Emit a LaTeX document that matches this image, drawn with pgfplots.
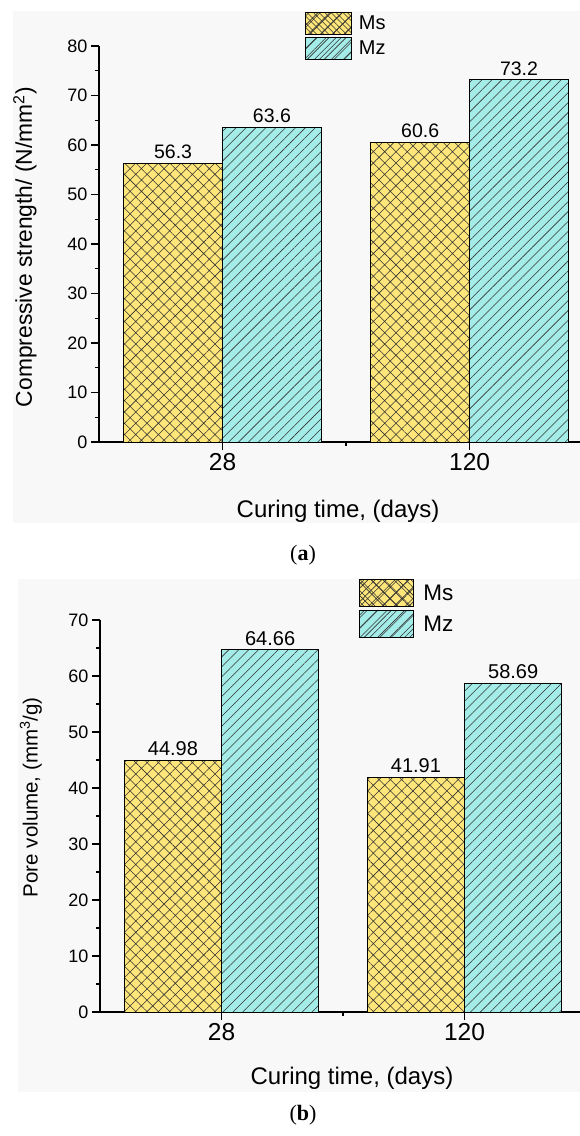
\documentclass[border=0pt]{standalone}
\usepackage{pgfplots}
\pgfplotsset{compat=1.18}
\usetikzlibrary{patterns.meta}
\usepackage{fontspec}
\setmainfont{Liberation Sans}
\newfontfamily\capfont{Liberation Serif}
\definecolor{msy}{RGB}{255,230,122}
\definecolor{mzc}{RGB}{164,236,232}
\definecolor{bgg}{RGB}{248,248,248}
\definecolor{hatchc}{RGB}{50,50,50}
\pgfplotsset{
  common/.style={
    scale only axis,
    anchor=south west,
    axis x line*=bottom,
    axis y line*=left,
    axis line style={line width=1.1pt},
    xmin=0.5,
    ymin=0,
    xtick={1,2},
    xticklabels={28,120},
    minor xtick={1.5},
    minor y tick num=1,
    tick align=outside,
    major tick length=8pt,
    minor tick length=4pt,
    tick style={line width=1.1pt, black},
    /pgf/number format/assume math mode=true,
    yticklabel style={font=\fontsize{18}{20}\selectfont},
    xticklabel style={font=\fontsize{24.5}{26}\selectfont},
    xlabel style={font=\fontsize{24}{26}\selectfont},
    nodes near coords,
    point meta=explicit symbolic,
    every node near coord/.append style={inner sep=0pt, yshift=4pt, anchor=south},
    legend cell align=left,
  },
  msbar/.style={ybar, bar width=0.4, bar shift=0pt, fill=msy, draw=black, line width=0.9pt,
    postaction={pattern={Hatch[angle=45,distance=8pt,line width=0.55pt]}, pattern color=hatchc}},
  mzbar/.style={ybar, bar width=0.4, bar shift=0pt, fill=mzc, draw=black, line width=0.9pt,
    postaction={pattern={Lines[angle=45,distance=7pt,line width=0.55pt]}, pattern color=hatchc}},
  legMsA/.style={legend image code/.code={\draw[fill=msy, draw=black, line width=0.9pt,
    postaction={pattern={Hatch[angle=45,distance=8.5pt,line width=0.6pt]}, pattern color=hatchc}]
    (0pt,-11pt) rectangle (46pt,11pt);}},
  legMzA/.style={legend image code/.code={\draw[fill=mzc, draw=black, line width=0.9pt,
    postaction={pattern={Lines[angle=45,distance=8.5pt,line width=0.6pt]}, pattern color=hatchc}]
    (0pt,-11pt) rectangle (46pt,11pt);}},
  legMsB/.style={legend image code/.code={\draw[fill=msy, draw=black, line width=0.9pt,
    postaction={pattern={Hatch[angle=45,distance=9.5pt,line width=0.6pt]}, pattern color=hatchc}]
    (0pt,-13.5pt) rectangle (54pt,13.5pt);}},
  legMzB/.style={legend image code/.code={\draw[fill=mzc, draw=black, line width=0.9pt,
    postaction={pattern={Lines[angle=45,distance=9.5pt,line width=0.6pt]}, pattern color=hatchc}]
    (0pt,-13.5pt) rectangle (54pt,13.5pt);}},
}
\begin{document}
\begin{tikzpicture}[x=1pt,y=1pt]
\path[use as bounding box] (0,0) rectangle (580,1136);
\fill[bgg] (13,613) rectangle (580,1125.3);
\fill[bgg] (18,44) rectangle (580,557);
% ---------- panel (a)
\begin{axis}[common,
  at={(99pt,694pt)}, width=481pt, height=396pt,
  xmax=2.447, ymax=80, ytick={0,10,...,80},
  every node near coord/.append style={font=\fontsize{19.5}{21}\selectfont},
  xlabel={Curing time, (days)},
  ylabel={Compressive strength/ (N/mm\textsuperscript{2})},
  xlabel style={at={(axis description cs:0.497,-0.174)}, anchor=center},
  ylabel style={font=\fontsize{22.8}{24}\selectfont, at={(axis description cs:-0.154,0.492)}, anchor=center, rotate=0},
  legend style={draw=none, fill=none, at={(axis description cs:0.428,1.087)}, anchor=north west,
    inner sep=0pt, row sep=2.5pt, font=\fontsize{20}{22}\selectfont,
    /tikz/every odd column/.append style={column sep=5pt}},
]
\addplot[msbar, legMsA]
  coordinates {(0.8,56.3) [56.3] (1.8,60.6) [60.6]};
\addlegendentry{Ms}
\addplot[mzbar, legMzA]
  coordinates {(1.2,63.6) [63.6] (2.2,73.2) [73.2]};
\addlegendentry{Mz}
\end{axis}
% ---------- panel (b)
\begin{axis}[common,
  at={(100pt,124pt)}, width=480pt, height=392pt,
  xmax=2.475, ymax=70, ytick={0,10,...,70},
  every node near coord/.append style={font=\fontsize{20}{22}\selectfont},
  xlabel={Curing time, (days)},
  ylabel={Pore volume, (mm\textsuperscript{3}/g)},
  xlabel style={at={(axis description cs:0.525,-0.168)}, anchor=center},
  ylabel style={font=\fontsize{20.5}{22}\selectfont, at={(axis description cs:-0.144,0.548)}, anchor=center, rotate=0},
  legend style={draw=none, fill=none, at={(axis description cs:0.54,1.1046)}, anchor=north west,
    inner sep=0pt, row sep=3pt, font=\fontsize{22.5}{24}\selectfont,
    /tikz/every odd column/.append style={column sep=7pt}},
]
\addplot[msbar, legMsB]
  coordinates {(0.8,44.98) [44.98] (1.8,41.91) [41.91]};
\addlegendentry{Ms}
\addplot[mzbar, legMzB]
  coordinates {(1.2,64.66) [64.66] (2.2,58.69) [58.69]};
\addlegendentry{Mz}
\end{axis}
\node[font=\capfont\fontsize{22}{24}\selectfont] at (303,581) {(\textbf{a})};
\node[font=\capfont\fontsize{22}{24}\selectfont] at (303,21) {(\textbf{b})};
\end{tikzpicture}
\end{document}
